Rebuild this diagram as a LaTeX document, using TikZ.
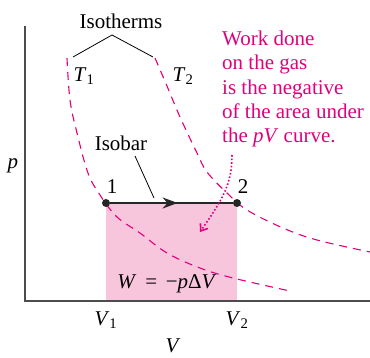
\documentclass[tikz,border=0pt]{standalone}
\usepackage{fontspec}
\setmainfont{Liberation Serif}
\usetikzlibrary{arrows.meta, positioning, decorations.markings}

\definecolor{magentaline}{HTML}{E2007A}
\definecolor{areapink}{HTML}{F7C6DD}

\begin{document}
\begin{tikzpicture}[
  x=1pt, y=-1pt,
  font=\fontsize{21}{24.2}\selectfont,
  axis/.style={line width=2pt, draw=black!70},
  isotherm/.style={magentaline, line width=1.1pt, dash pattern=on 8pt off 6pt},
  isobar/.style={line width=2pt, draw=black!85,
    postaction={decorate},
    decoration={markings, mark=at position 0.55 with {\arrow{Stealth[length=15pt, width=11pt]}}}},
  state/.style={circle, fill=black!85, inner sep=0pt, minimum size=8pt},
  leader/.style={line width=0.8pt},
  note/.style={magentaline, align=left, anchor=north west, inner sep=0pt}
]
\useasboundingbox (0,0) rectangle (370,357);

% Area under the isobar
\fill[areapink] (106,203) rectangle (237,301);

% Axes
\coordinate (origin) at (25,301);
\coordinate (ytop) at (25,26);
\coordinate (xend) at (370,301);
\draw[axis] (ytop) -- (origin) -- (xend);

% Isotherms
\draw[isotherm] plot[smooth, tension=0.6] coordinates {(67,58) (70,100) (77,133) (88,173) (100,195) (117,217) (140,233) (167,253) (200,268) (233,278) (290,291)};
\draw[isotherm] plot[smooth, tension=0.6] coordinates {(155,58) (167,86) (180,117) (197,153) (207,172) (227,193) (247,210) (283,228) (317,240) (370,252)};

% States and isobar
\node[state] (s1) at (106,203) {};
\node[state] (s2) at (237,203) {};
\draw[isobar] (s1) -- (s2);
\node (n1) at (112,187) {1};
\node (n2) at (243,187) {2};

% Labels
\node (iso) at (121,21) {Isotherms};
\coordinate (apex) at (112,35);
\coordinate (t1end) at (73,57);
\coordinate (t2end) at (153,57);
\draw[leader] (t1end) -- (apex) -- (t2end);
\node (t1) at (84,76) {\textit{T}\textsubscript{1}};
\node (t2) at (183,76) {\textit{T}\textsubscript{2}};

\node (isobarlbl) at (121,143) {Isobar};
\coordinate (isobarpt) at (154,198);
\draw[leader] (135,156) -- (isobarpt);

\node (work) at (167,284) {\textit{W}\, =\, −\textit{p}Δ\textit{V}};
\node (v1) at (106,320) {\textit{V}\textsubscript{1}};
\node (v2) at (237,320) {\textit{V}\textsubscript{2}};
\node[inner sep=1pt] (vaxis) at (173,346) {\textit{V}};
\node (paxis) at (13,166) {\textit{p}};

% Note
\node[note] (note) at (222,31) {Work done\\on the gas\\is the negative\\of the area under\\the \textit{pV} curve.};
\coordinate (notetip) at (200,232);
\draw[magentaline, line width=1.6pt, dotted, -{Straight Barb[length=6pt, width=9pt]}]
  (232,155) .. controls (232,185) and (222,200) .. (notetip);

\end{tikzpicture}
\end{document}
